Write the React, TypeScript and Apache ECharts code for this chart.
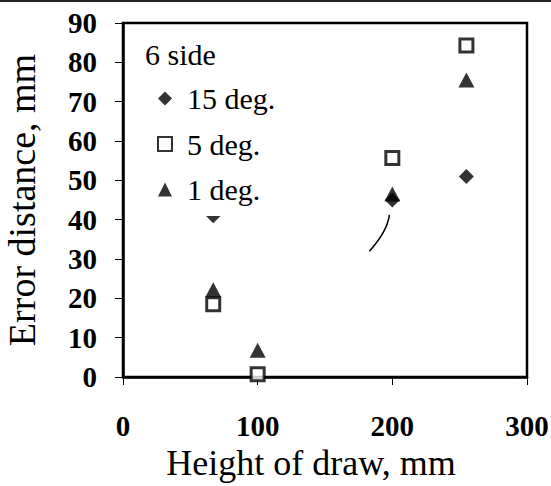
import React, { useEffect, useRef } from "react";
import * as echarts from "echarts";

const seriesNames = ["15 deg.", "5 deg.", "1 deg."];
const deg15: [number, number][] = [[67, 41], [200, 45], [255, 51]];
const deg5: [number, number][] = [[67, 18.5], [100, 0.7], [200, 55.7], [255, 84.3]];
const deg1: [number, number][] = [[67, 22.2], [100, 6.8], [200, 46.5], [255, 75.5]];
const xTicks = [0, 100, 200, 300];
const yTicks = [0, 10, 20, 30, 40, 50, 60, 70, 80, 90];
// stray hand-drawn annotation stroke, in data units: start, control, end
const annotation: [number, number][] = [[183, 32], [196.3, 37], [197.8, 41.2]];

const FONT = "'Liberation Serif', 'Times New Roman', serif";

export default function App() {
  const ref = useRef<HTMLDivElement>(null);
  useEffect(() => {
    document.body.style.margin = "0";
    const chart = echarts.init(ref.current!, undefined, { renderer: "svg" });
    const axisCommon = {
      type: "value" as const,
      axisLine: { show: true, lineStyle: { color: "#000", width: 2.5 } },
      axisTick: { show: true, inside: false, length: 8, lineStyle: { color: "#000", width: 1 } },
      splitLine: { show: false },
      nameLocation: "middle" as const,
    };
    chart.setOption({
      animation: false,
      backgroundColor: "#fff",
      title: {
        text: "6 side",
        left: 145,
        top: 39,
        padding: 0,
        textStyle: { fontFamily: FONT, fontSize: 30, fontWeight: "normal", color: "#000" },
      },
      legend: {
        orient: "vertical",
        left: 152,
        top: 79,
        padding: [4, 8, 11, 5],
        backgroundColor: "#fff",
        itemGap: 14.5,
        itemWidth: 14,
        itemHeight: 14,
        data: [
          { name: seriesNames[0], icon: "diamond" },
          { name: seriesNames[1], icon: "rect" },
          { name: seriesNames[2], icon: "triangle" },
        ],
        textStyle: { fontFamily: FONT, fontSize: 30, lineHeight: 31, color: "#000", padding: [0, 0, 0, 10] },
      },
      grid: {
        left: 123,
        right: 24,
        top: 23,
        bottom: 109,
        outerBoundsMode: "none",
        containLabel: false,
        show: true,
        borderColor: "#000",
        borderWidth: 2.5,
        backgroundColor: "transparent",
      },
      xAxis: {
        ...axisCommon,
        min: xTicks[0],
        max: xTicks[xTicks.length - 1],
        interval: 100,
        name: "Height of draw, mm",
        nameGap: 68,
        nameTextStyle: { fontFamily: FONT, fontSize: 36, color: "#000", padding: [0, 28, 0, 0] },
        axisLabel: { fontFamily: FONT, fontSize: 29, fontWeight: "bold", color: "#000", margin: 34 },
      },
      yAxis: {
        ...axisCommon,
        min: yTicks[0],
        max: yTicks[yTicks.length - 1],
        interval: 10,
        name: "Error distance, mm",
        nameGap: 82,
        nameTextStyle: { fontFamily: FONT, fontSize: 38, color: "#000" },
        axisLabel: { fontFamily: FONT, fontSize: 29, fontWeight: "bold", color: "#000", margin: 26 },
      },
      series: [
        {
          name: seriesNames[0],
          type: "scatter",
          symbol: "diamond",
          symbolSize: 15,
          itemStyle: { color: "#000" },
          data: deg15,
          z: 2,
        },
        {
          name: seriesNames[1],
          type: "scatter",
          symbol: "rect",
          symbolSize: 13,
          itemStyle: { color: "#fff", borderColor: "#000", borderWidth: 3 },
          data: deg5,
          z: 3,
        },
        {
          name: seriesNames[2],
          type: "scatter",
          symbol: "triangle",
          symbolSize: [16, 15],
          itemStyle: { color: "#000" },
          data: deg1,
          z: 4,
        },
      ],
    });
    const p0 = chart.convertToPixel({ gridIndex: 0 }, annotation[0]) as number[];
    const p1 = chart.convertToPixel({ gridIndex: 0 }, annotation[1]) as number[];
    const p2 = chart.convertToPixel({ gridIndex: 0 }, annotation[2]) as number[];
    chart.setOption({
      graphic: [
        {
          type: "bezierCurve",
          shape: { x1: p0[0], y1: p0[1], cpx1: p1[0], cpy1: p1[1], x2: p2[0], y2: p2[1] },
          style: { stroke: "#000", lineWidth: 1.5, fill: "none" },
        },
        {
          type: "line",
          shape: { x1: 0, y1: 1, x2: 551, y2: 1 },
          style: { stroke: "#222", lineWidth: 2 },
        },
      ],
    });
    return () => chart.dispose();
  }, []);
  return <div ref={ref} style={{ width: 551, height: 486 }} />;
}
